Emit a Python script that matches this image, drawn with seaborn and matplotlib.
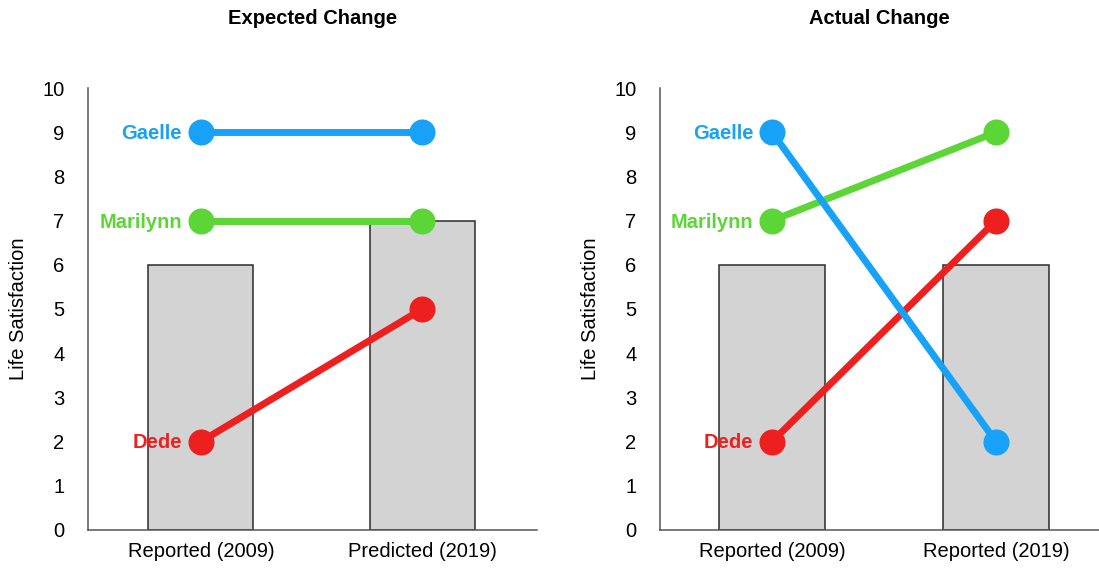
import pandas as pd
import seaborn as sns
import matplotlib.pyplot as plt

# data
people = ["Dede", "Marilynn", "Gaelle"]
colors = {"Gaelle": "#17A2F8", "Marilynn": "#5BD636", "Dede": "#EE1F1F"}

expected_periods = ["Reported (2009)", "Predicted (2019)"]
expected_bars = [6, 7]
expected_scores = {"Dede": [2, 5], "Marilynn": [7, 7], "Gaelle": [9, 9]}

actual_periods = ["Reported (2009)", "Reported (2019)"]
actual_bars = [6, 6]
actual_scores = {"Dede": [2, 7], "Marilynn": [7, 9], "Gaelle": [9, 2]}

sns.set_theme(style="white")
plt.rcParams["font.family"] = ["Liberation Sans", "DejaVu Sans"]
plt.rcParams["text.color"] = "black"
plt.rcParams["axes.labelcolor"] = "black"
plt.rcParams["xtick.color"] = "black"
plt.rcParams["ytick.color"] = "black"


def long_df(periods, scores):
    rows = []
    for name in people:
        for p, v in zip(periods, scores[name]):
            rows.append({"period": p, "score": v, "name": name})
    return pd.DataFrame(rows)


def draw_panel(ax, title, periods, bars, scores):
    bar_df = pd.DataFrame({"period": periods, "score": bars})
    sns.barplot(data=bar_df, x="period", y="score", color="#D3D3D3", saturation=1,
                width=0.475, edgecolor="#2b2b2b", linewidth=1.1, ax=ax)

    df = long_df(periods, scores)
    sns.pointplot(data=df, x="period", y="score", hue="name", hue_order=people,
                  palette=colors, markers="o", linestyles="-", markersize=15,
                  linewidth=5, errorbar=None, legend=False, ax=ax)

    # name labels next to the first point
    for name in people:
        ax.annotate(name, (0, scores[name][0]), xytext=(-13.5, -1), textcoords="offset points",
                    ha="right", va="center", fontsize=14.5, fontweight="bold",
                    color=colors[name])

    ax.set_ylim(0, 10)
    ax.set_yticks(range(0, 11))
    ax.set_xlabel("")
    ax.set_ylabel("Life Satisfaction", fontsize=14.5, labelpad=10)
    ax.set_title(title, fontsize=14.5, fontweight="bold", pad=46)
    ax.tick_params(axis="y", direction="in", length=3, width=1, pad=17,
                   labelsize=14.5, color="#333333", labelcolor="black")
    ax.tick_params(axis="x", length=0, pad=9, labelsize=14.5, labelcolor="black")
    for side in ["top", "right"]:
        ax.spines[side].set_visible(False)
    for side in ["left", "bottom"]:
        ax.spines[side].set_color("#555555")
        ax.spines[side].set_linewidth(1.1)


fig = plt.figure(figsize=(10.99, 5.68), dpi=100)
ax1 = fig.add_axes([0.080, 0.067, 0.409, 0.778])
ax2 = fig.add_axes([0.6006, 0.067, 0.3994, 0.778])

draw_panel(ax1, "Expected Change", expected_periods, expected_bars, expected_scores)
ax1.set_xlim(-0.51, 1.52)
draw_panel(ax2, "Actual Change", actual_periods, actual_bars, actual_scores)
ax2.set_xlim(-0.50, 1.46)

plt.savefig("out.png", dpi=100)
